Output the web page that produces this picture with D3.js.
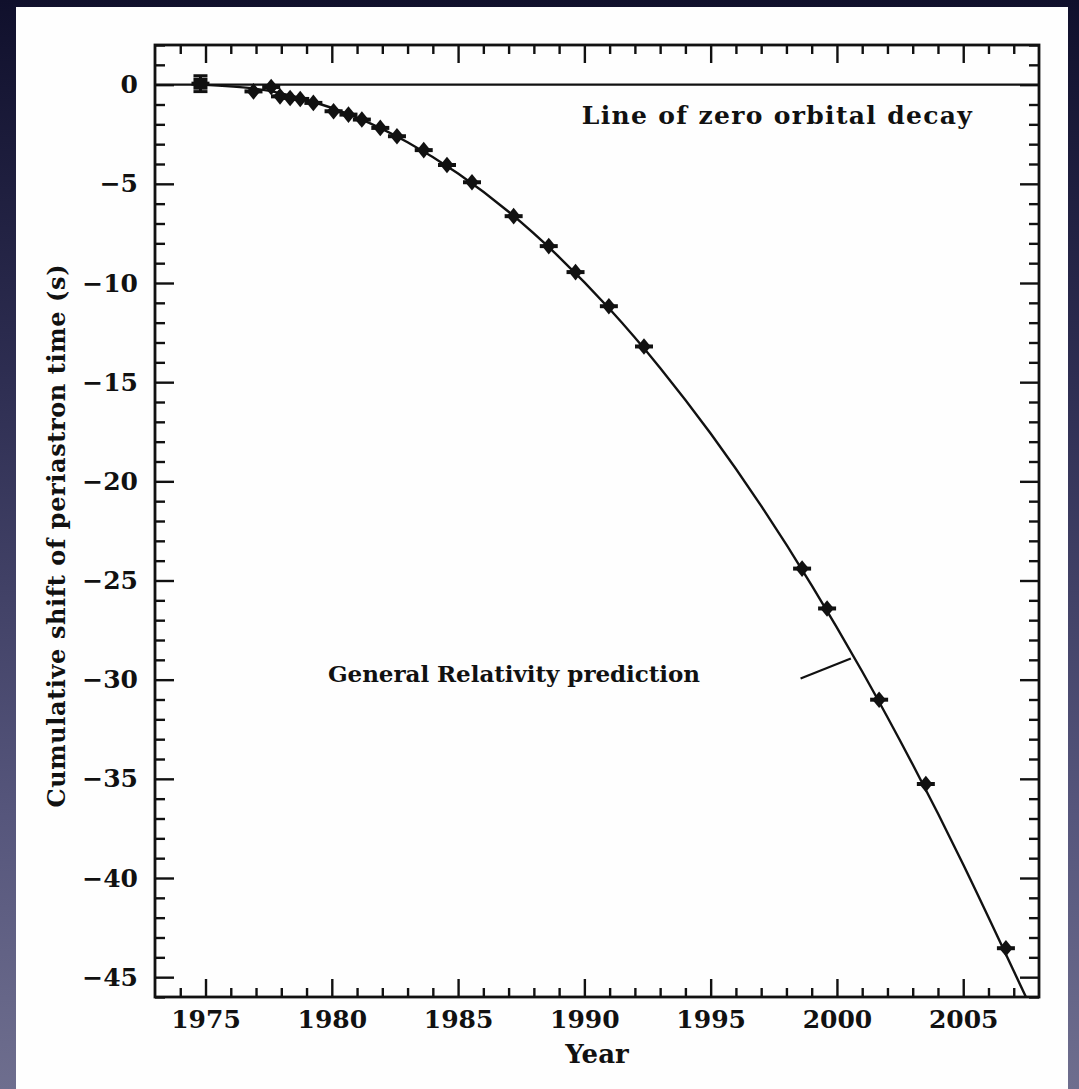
<!DOCTYPE html>
<html>
<head>
<meta charset="utf-8">
<script src="https://cdn.jsdelivr.net/npm/d3@7"></script>
<style>
    html, body {
        margin: 0;
        padding: 0;
        width: 1079px;
        height: 1089px;
        overflow: hidden;
        background: linear-gradient(to bottom, #10102c 0%, #2e2e52 35%, #56567c 75%, #6e6e8e 100%);
    }
    svg text {
        font-family: "DejaVu Serif", serif;
        font-weight: bold;
        fill: #111;
    }
</style>
</head>
<body>
<div id="chart"></div>
<script>

const obsYears = [1974.8, 1976.9, 1977.6, 1977.95, 1978.35, 1978.75, 1979.27, 1980.07, 1980.66, 1981.19,
    1981.92, 1982.58, 1983.64, 1984.56, 1985.55, 1987.2, 1988.59, 1989.65, 1990.97, 1992.36,
    1998.62, 1999.61, 2001.67, 2003.52, 2006.69];
const obsShift = [0.05, -0.34, -0.12, -0.59, -0.67, -0.72, -0.92, -1.34, -1.51, -1.76,
    -2.18, -2.60, -3.30, -4.05, -4.92, -6.63, -8.14, -9.45, -11.17, -13.2,
    -24.40, -26.41, -31.01, -35.26, -43.54];
const obsErr = [0.4, 0.15, 0.15, 0.1, 0.1, 0.1, 0.1, 0.1, 0.1, 0.1,
    0.1, 0.1, 0.1, 0.1, 0.1, 0.1, 0.1, 0.1, 0.1, 0.1,
    0.1, 0.1, 0.1, 0.1, 0.1];

// General Relativity prediction curve
const grYears = [1974.8, 1977, 1979, 1981, 1983, 1985, 1987, 1989, 1991, 1993, 1995, 1997, 1999, 2001, 2003, 2005, 2007, 2008];
const grShift = [0, -0.21, -0.76, -1.66, -2.90, -4.48, -6.41, -8.69, -11.31, -14.28, -17.59, -21.24, -25.24, -29.59, -34.28, -39.32, -44.69, -47.4];

// Axis ticks
const xMajor = [1975, 1980, 1985, 1990, 1995, 2000, 2005];
const yMajor = [0, -5, -10, -15, -20, -25, -30, -35, -40, -45];

const W = 1079, H = 1089;
const margin = {top: 45, right: 40, bottom: 92, left: 155};
const width = W - margin.left - margin.right;
const height = H - margin.top - margin.bottom;

const svg = d3.select("#chart").append("svg")
    .attr("width", W)
    .attr("height", H);

// White paper panel
svg.append("rect")
    .attr("x", 16).attr("y", 7)
    .attr("width", 1052).attr("height", 1090)
    .attr("fill", "#fefefe");

const g = svg.append("g")
    .attr("transform", `translate(${margin.left}, ${margin.top})`);

const x = d3.scaleLinear().domain([1973, 2008]).range([0, width]);
const y = d3.scaleLinear().domain([2, -46]).range([0, height]);

g.append("clipPath").attr("id", "plot-clip")
    .append("rect").attr("width", width).attr("height", height);

// Minor / major ticks, all pointing inwards
const xMinor = d3.range(1974, 2008).filter(d => !xMajor.includes(d));
const yMinor = d3.range(-46, 3).filter(d => !yMajor.includes(d));

function styleAxis(sel) {
    sel.select(".domain").remove();
    sel.selectAll(".tick line").attr("stroke", "#111").attr("stroke-width", 2.4);
    sel.selectAll("text").attr("fill", "#111").style("font-size", "25px");
}

g.append("g").attr("transform", `translate(0, ${height})`)
    .call(d3.axisBottom(x).tickValues(xMinor).tickSize(-9).tickFormat(""))
    .call(styleAxis);
g.append("g").attr("transform", `translate(0, ${height})`)
    .call(d3.axisBottom(x).tickValues(xMajor).tickSize(-18).tickPadding(13).tickFormat(d3.format("d")))
    .call(styleAxis);
g.append("g")
    .call(d3.axisTop(x).tickValues(xMinor).tickSize(-9).tickFormat(""))
    .call(styleAxis);
g.append("g")
    .call(d3.axisTop(x).tickValues(xMajor).tickSize(-18).tickFormat(""))
    .call(styleAxis);

g.append("g")
    .call(d3.axisLeft(y).tickValues(yMinor).tickSize(-10).tickFormat(""))
    .call(styleAxis);
g.append("g")
    .call(d3.axisLeft(y).tickValues(yMajor).tickSize(-19).tickPadding(17).tickFormat(d => d < 0 ? "\u2212" + Math.abs(d) : d))
    .call(styleAxis);
g.append("g").attr("transform", `translate(${width}, 0)`)
    .call(d3.axisRight(y).tickValues(yMinor).tickSize(-10).tickFormat(""))
    .call(styleAxis);
g.append("g").attr("transform", `translate(${width}, 0)`)
    .call(d3.axisRight(y).tickValues(yMajor).tickSize(-19).tickFormat(""))
    .call(styleAxis);

// Frame
g.append("rect")
    .attr("width", width).attr("height", height)
    .attr("fill", "none")
    .attr("stroke", "#111")
    .attr("stroke-width", 2.8);

// Line of zero orbital decay
g.append("line")
    .attr("x1", 0).attr("x2", width)
    .attr("y1", y(0)).attr("y2", y(0))
    .attr("stroke", "#111").attr("stroke-width", 2.4);

// GR prediction
const grData = grYears.map((d, i) => ({year: d, value: grShift[i]}));
g.append("path")
    .datum(grData)
    .attr("clip-path", "url(#plot-clip)")
    .attr("fill", "none")
    .attr("stroke", "#111")
    .attr("stroke-width", 2.4)
    .attr("d", d3.line().x(d => x(d.year)).y(d => y(d.value)).curve(d3.curveNatural));

// Measurements
const obs = obsYears.map((d, i) => ({year: d, value: obsShift[i], err: obsErr[i]}));
const pts = g.selectAll(".obs")
    .data(obs)
    .enter().append("g")
    .attr("class", "obs")
    .attr("transform", d => `translate(${x(d.year)}, ${y(d.value)})`);

pts.append("line")
    .attr("x1", -9).attr("x2", 9)
    .attr("stroke", "#111").attr("stroke-width", 4);
pts.append("line")
    .attr("y1", d => y(d.value + d.err) - y(d.value))
    .attr("y2", d => y(d.value - d.err) - y(d.value))
    .attr("stroke", "#111").attr("stroke-width", 3);
pts.filter((d, i) => i > 0).append("path")
    .attr("d", d3.symbol().type(d3.symbolDiamond).size(110))
    .attr("transform", "scale(1.2, 0.85)")
    .attr("fill", "#111");

// First point: square with error bar caps
const first = pts.filter((d, i) => i === 0);
first.append("rect")
    .attr("x", -7).attr("y", -6).attr("width", 14).attr("height", 12)
    .attr("fill", "#111");
first.selectAll(".cap")
    .data(d => [d.err, -d.err].map(e => y(d.value + e) - y(d.value)))
    .enter().append("line")
    .attr("x1", -7).attr("x2", 7)
    .attr("y1", d => d).attr("y2", d => d)
    .attr("stroke", "#111").attr("stroke-width", 3);

// Annotations
g.append("text")
    .attr("x", x(1989.9)).attr("y", y(-2.0))
    .attr("textLength", 390)
    .style("font-size", "25px")
    .text("Line of zero orbital decay");

g.append("text")
    .attr("x", x(1979.85)).attr("y", y(-30.1))
    .attr("textLength", 372)
    .style("font-size", "23px")
    .text("General Relativity prediction");

g.append("line")
    .attr("x1", x(1998.56)).attr("y1", y(-29.94))
    .attr("x2", x(2000.55)).attr("y2", y(-28.93))
    .attr("stroke", "#111").attr("stroke-width", 2.2);

// Axis titles
g.append("text")
    .attr("x", width / 2).attr("y", height + 66)
    .attr("text-anchor", "middle")
    .style("font-size", "26px")
    .text("Year");

g.append("text")
    .attr("transform", `translate(${57 - margin.left}, ${536 - margin.top}) rotate(-90)`)
    .attr("text-anchor", "middle")
    .attr("dy", "0.35em")
    .attr("textLength", 543)
    .style("font-size", "24px")
    .text("Cumulative shift of periastron time (s)");

</script>
</body>
</html>
